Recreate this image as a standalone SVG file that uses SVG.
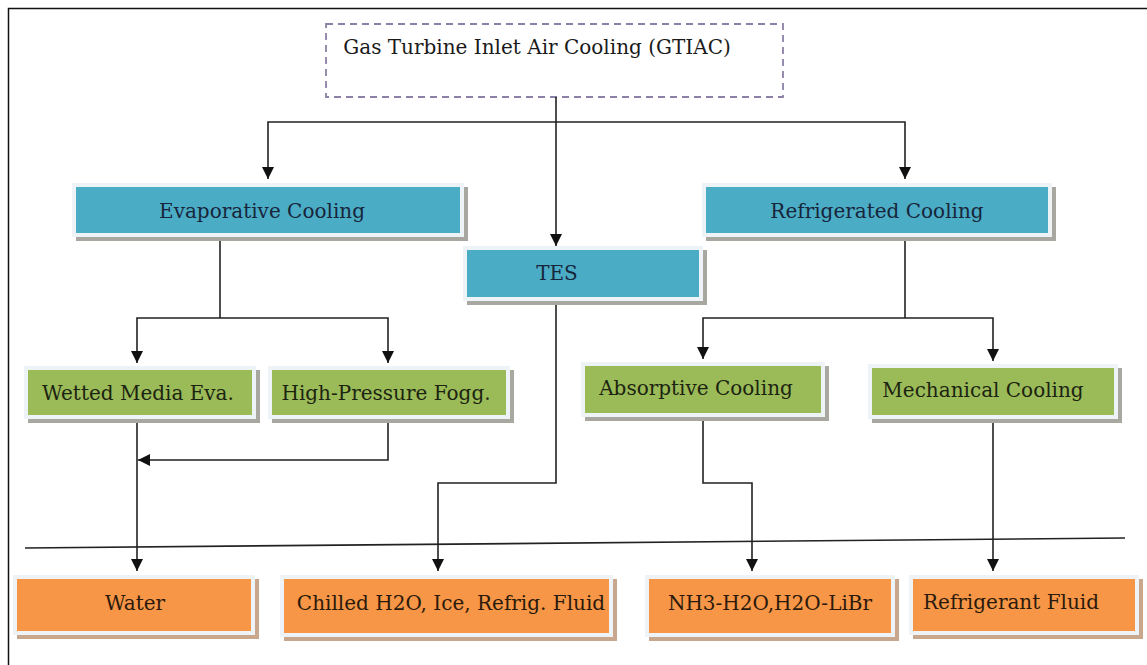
<svg xmlns="http://www.w3.org/2000/svg" width="1147" height="665" viewBox="0 0 1147 665">
<defs>
<marker id="ah" viewBox="0 0 12 12" refX="12" refY="6" markerWidth="12" markerHeight="12" markerUnits="userSpaceOnUse" orient="auto">
<path d="M0,0 L12,6 L0,12 Z" fill="#111"/>
</marker>
</defs>
<style>
.frame{fill:#eef3f8;}
.sg{fill:#a8a8a0;}
.so{fill:#c9a78c;}
.teal{fill:#4bacc6;}
.green{fill:#9bbb59;}
.orange{fill:#f79646;}
.lbl{font-size:20px;text-anchor:middle;}
.tt{fill:#17263a;}
.tg{fill:#1c2410;}
.to{fill:#2b1a0c;}
.c{fill:none;stroke:#222;stroke-width:1.6;}
.ca{fill:none;stroke:#222;stroke-width:1.6;marker-end:url(#ah);}
</style>
<rect width="1147" height="665" fill="#fff"/>
<path d="M8.5,665 V8.5 H1147" fill="none" stroke="#111" stroke-width="1.5"/>

<g font-family="'DejaVu Serif', serif">
<g id="gtiac">
<rect x="326" y="24" width="457" height="73" fill="#fff" stroke="#8c80a6" stroke-width="1.8" stroke-dasharray="7,5"/>
<text class="lbl" x="537" y="54" style="fill:#1a1a1a">Gas Turbine Inlet Air Cooling (GTIAC)</text>
</g>

<g id="connectors">
<path class="c" d="M556,97 V122"/>
<path class="ca" d="M556,122 H268 V179"/>
<path class="ca" d="M556,122 H905 V179"/>
<path class="ca" d="M556,122 V246"/>
<path class="c" d="M220,241 V318"/>
<path class="ca" d="M220,318 H137 V363"/>
<path class="ca" d="M220,318 H388 V363"/>
<path class="c" d="M905,241 V318"/>
<path class="ca" d="M905,318 H703 V359"/>
<path class="ca" d="M905,318 H993 V361"/>
<path class="ca" d="M137,423 V571"/>
<path class="ca" d="M388,423 V460 H138"/>
<path class="ca" d="M556,305 V483 H438 V571"/>
<path class="ca" d="M703,421 V483 H752 V571"/>
<path class="ca" d="M993,423 V571"/>
<path class="c" d="M25,548 L1125,538"/>
</g>

<g id="evaporative">
<rect class="sg" x="76" y="187" width="392" height="54"/>
<rect class="frame" x="72" y="183" width="392" height="54"/>
<rect class="teal" x="76" y="187" width="384" height="46"/>
<text class="lbl tt" x="262" y="218">Evaporative Cooling</text>
</g>

<g id="tes">
<rect class="sg" x="467" y="250" width="240" height="55"/>
<rect class="frame" x="463" y="246" width="240" height="55"/>
<rect class="teal" x="467" y="250" width="232" height="47"/>
<text class="lbl tt" x="557" y="280">TES</text>
</g>

<g id="refrigerated">
<rect class="sg" x="706" y="187" width="350" height="54"/>
<rect class="frame" x="702" y="183" width="350" height="54"/>
<rect class="teal" x="706" y="187" width="342" height="46"/>
<text class="lbl tt" x="877" y="218">Refrigerated Cooling</text>
</g>

<g id="wetted">
<rect class="sg" x="28" y="370" width="232" height="53"/>
<rect class="frame" x="24" y="366" width="232" height="53"/>
<rect class="green" x="28" y="370" width="224" height="45"/>
<text class="lbl tg" x="138" y="400">Wetted Media Eva.</text>
</g>

<g id="highpressure">
<rect class="sg" x="272" y="370" width="242" height="53"/>
<rect class="frame" x="268" y="366" width="242" height="53"/>
<rect class="green" x="272" y="370" width="234" height="45"/>
<text class="lbl tg" x="386" y="400">High-Pressure Fogg.</text>
</g>

<g id="absorptive">
<rect class="sg" x="585" y="366" width="244" height="55"/>
<rect class="frame" x="581" y="362" width="244" height="55"/>
<rect class="green" x="585" y="366" width="236" height="47"/>
<text class="lbl tg" x="696" y="395">Absorptive Cooling</text>
</g>

<g id="mechanical">
<rect class="sg" x="872" y="368" width="250" height="55"/>
<rect class="frame" x="868" y="364" width="250" height="55"/>
<rect class="green" x="872" y="368" width="242" height="47"/>
<text class="lbl tg" x="983" y="397">Mechanical Cooling</text>
</g>

<g id="water">
<rect class="so" x="17" y="579" width="242" height="60"/>
<rect class="frame" x="13" y="575" width="242" height="60"/>
<rect class="orange" x="17" y="579" width="234" height="52"/>
<text class="lbl to" x="135" y="610">Water</text>
</g>

<g id="chilled">
<rect class="so" x="284" y="579" width="333" height="62"/>
<rect class="frame" x="280" y="575" width="333" height="62"/>
<rect class="orange" x="284" y="579" width="325" height="54"/>
<text class="lbl to" x="451" y="610">Chilled H2O, Ice, Refrig. Fluid</text>
</g>

<g id="nh3">
<rect class="so" x="649" y="579" width="250" height="62"/>
<rect class="frame" x="645" y="575" width="250" height="62"/>
<rect class="orange" x="649" y="579" width="242" height="54"/>
<text class="lbl to" x="770" y="610">NH3-H2O,H2O-LiBr</text>
</g>

<g id="refrigerant">
<rect class="so" x="913" y="579" width="230" height="60"/>
<rect class="frame" x="909" y="575" width="230" height="60"/>
<rect class="orange" x="913" y="579" width="222" height="52"/>
<text class="lbl to" x="1011" y="609">Refrigerant Fluid</text>
</g>
</g>
</svg>
